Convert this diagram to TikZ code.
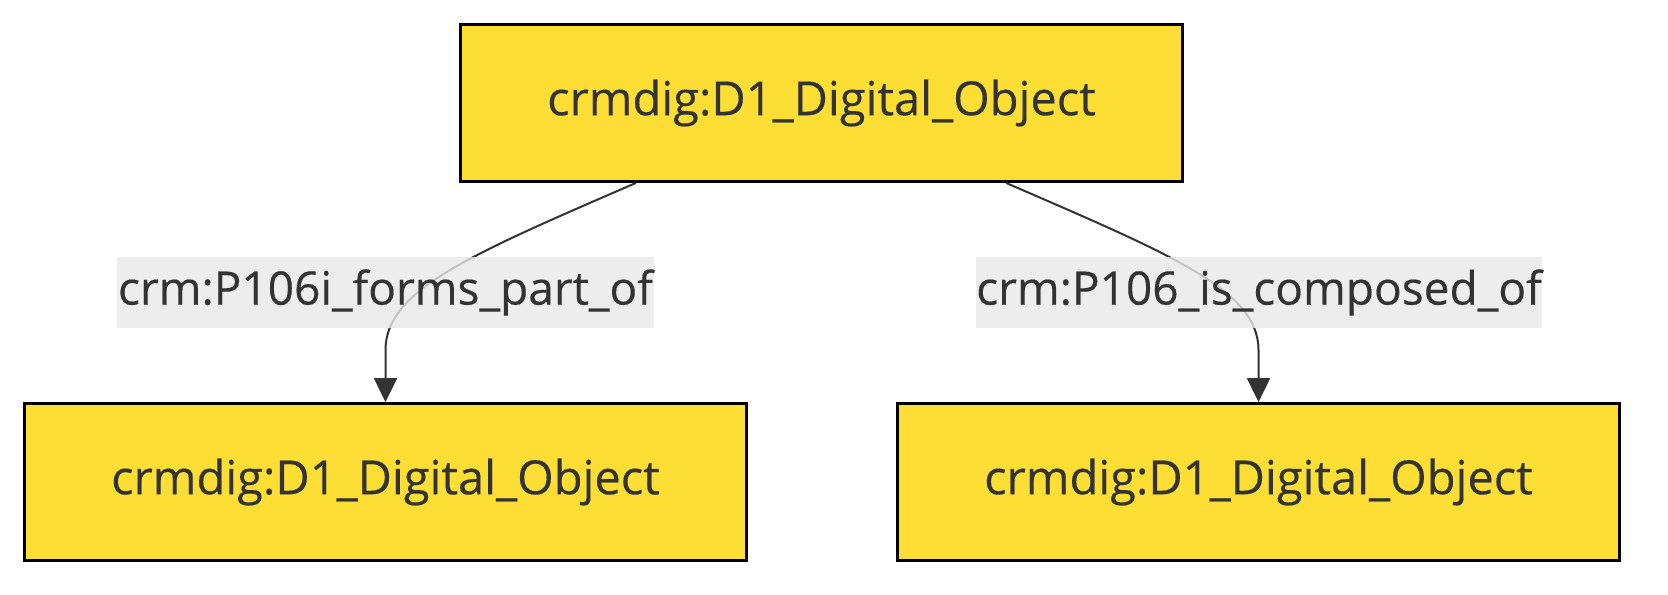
\documentclass[tikz,border=0pt]{standalone}
\usepackage{fontspec}
\setmainfont{Open Sans}
\newfontfamily\dgfont{Open Sans}[FakeBold=0.35]
\usetikzlibrary{arrows.meta}
\definecolor{nodefill}{RGB}{253,222,53}
\definecolor{txt}{RGB}{51,51,51}
\definecolor{lblbg}{RGB}{232,232,232}
\tikzset{
  entity/.style={draw=black, line width=1.4pt, fill=nodefill, text=txt,
    minimum width=361pt, minimum height=78.5pt, inner sep=0pt,
    font=\dgfont\fontsize{23.5}{28}\selectfont},
  edgelbl/.style={fill=lblbg, fill opacity=0.8, text opacity=1, text=txt,
    minimum width=268.5pt, minimum height=35.5pt, inner sep=0pt,
    font=\dgfont\fontsize{23}{28}\selectfont},
  edge/.style={draw=txt, line width=1pt, -{Triangle[length=12pt,width=11.5pt]}}
}
\begin{document}
\begin{tikzpicture}[x=0.5pt,y=-0.5pt]
\useasboundingbox (0,0) rectangle (1668,594);
\node[entity] (top) at (821.5,103) {crmdig:D1\_Digital\_Object};
\node[entity] (bl) at (385.5,482) {crmdig:D1\_Digital\_Object};
\node[entity] (br) at (1258.5,482) {crmdig:D1\_Digital\_Object};
\draw[edge] ([xshift=-92.75pt]top.south) .. controls +(-166,72) and +(0,-60) .. ([yshift=26pt]bl.north) -- (bl.north);
\draw[edge] ([xshift=92.25pt]top.south) .. controls +(166,72) and +(0,-60) .. ([yshift=26pt]br.north) -- (br.north);
\node[edgelbl] (l1) at (385.5,292.5) {crm:P106i\_forms\_part\_of};
\node[edgelbl, minimum width=281pt] (l2) at (1259,292.5) {crm:P106\_is\_composed\_of};
\end{tikzpicture}
\end{document}
